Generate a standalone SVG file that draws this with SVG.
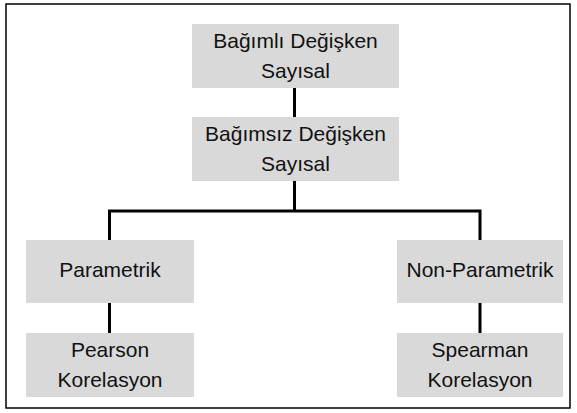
<svg xmlns="http://www.w3.org/2000/svg" width="577" height="413" viewBox="0 0 577 413">
<style>
.box{fill:#d9d9d9;}
.t{font-family:"Liberation Sans",Arial,sans-serif;font-size:21px;fill:#111;text-anchor:middle;}
.c{stroke:#000;stroke-width:3;fill:none;}
</style>
<rect x="0" y="0" width="577" height="413" fill="#fff"/>
<rect x="6" y="4" width="564" height="404" fill="#fff" stroke="#000" stroke-width="1.5"/>
<g id="connectors">
<line class="c" x1="294.5" y1="88" x2="294.5" y2="117"/>
<polyline class="c" points="109.5,240 109.5,211 294.5,211 294.5,181 294.5,211 480,211 480,240"/>
<line class="c" x1="109.5" y1="303" x2="109.5" y2="333"/>
<line class="c" x1="480" y1="303" x2="480" y2="333"/>
</g>
<g id="n1">
<rect class="box" x="192" y="24" width="207" height="64"/>
<text class="t" x="295.5" y="48">Bağımlı Değişken</text>
<text class="t" x="295.5" y="78">Sayısal</text>
</g>
<g id="n2">
<rect class="box" x="192" y="117" width="207" height="64"/>
<text class="t" x="295.5" y="141">Bağımsız Değişken</text>
<text class="t" x="295.5" y="171">Sayısal</text>
</g>
<g id="n3">
<rect class="box" x="26" y="240" width="168" height="63"/>
<text class="t" x="110" y="277">Parametrik</text>
</g>
<g id="n4">
<rect class="box" x="397" y="240" width="166" height="63"/>
<text class="t" x="480" y="277">Non-Parametrik</text>
</g>
<g id="n5">
<rect class="box" x="26" y="333" width="168" height="64"/>
<text class="t" x="110" y="357">Pearson</text>
<text class="t" x="110" y="387">Korelasyon</text>
</g>
<g id="n6">
<rect class="box" x="397" y="333" width="166" height="64"/>
<text class="t" x="480" y="357">Spearman</text>
<text class="t" x="480" y="387">Korelasyon</text>
</g>
</svg>
